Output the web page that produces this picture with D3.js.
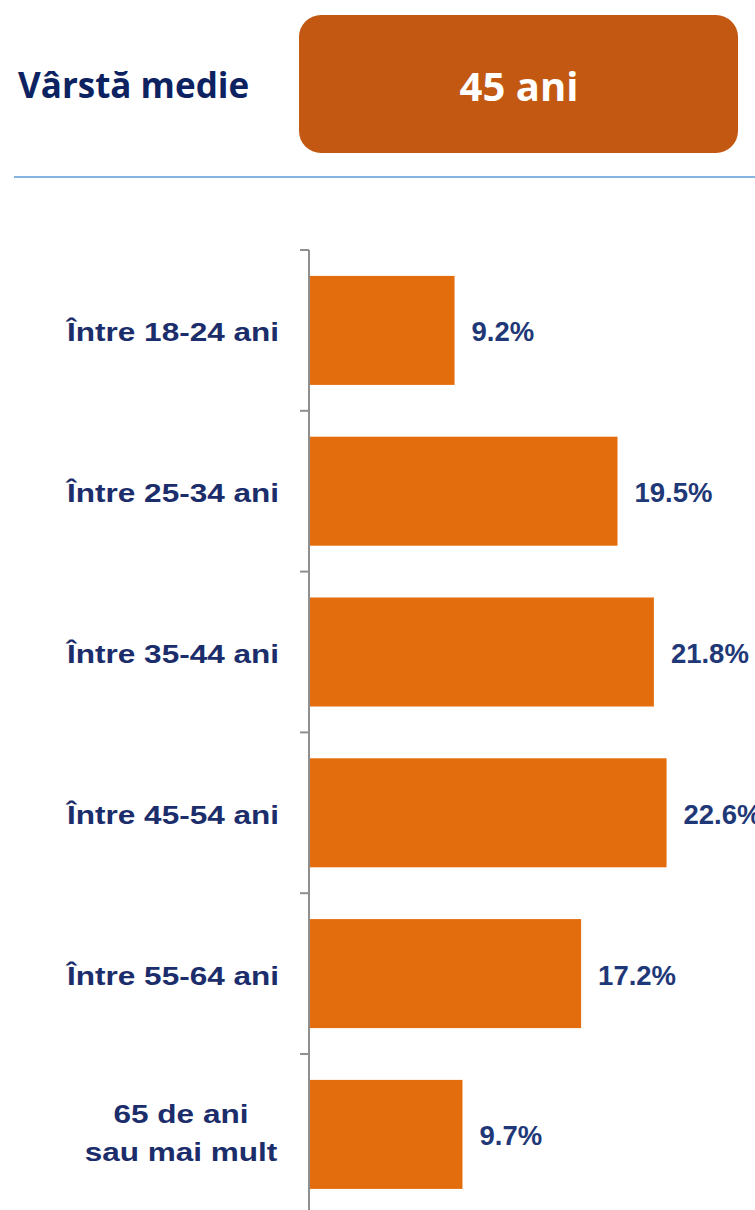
<!DOCTYPE html>
<html>
<head>
<meta charset="utf-8">
<script src="https://cdn.jsdelivr.net/npm/d3@7"></script>
<style>
  html, body { margin: 0; padding: 0; background: #ffffff; }
  svg { display: block; }
</style>
</head>
<body>
<svg id="chart" width="755" height="1210"></svg>
<script>
// ---- data ----
const headerLabel = "Vârstă medie";
const headerValue = "45 ani";
const categories = [
  ["Între 18-24 ani"],
  ["Între 25-34 ani"],
  ["Între 35-44 ani"],
  ["Între 45-54 ani"],
  ["Între 55-64 ani"],
  ["65 de ani", "sau mai mult"]
];
const values = [9.2, 19.5, 21.8, 22.6, 17.2, 9.7];

// ---- drawing ----
const svg = d3.select("#chart");
const W = 755, H = 1210;

// header
svg.append("text")
  .attr("x", 18).attr("y", 98)
  .attr("font-family", "'Open Sans', sans-serif")
  .attr("font-weight", 700)
  .attr("font-size", 35)
  .attr("fill", "#0d2260")
  .text(headerLabel);

svg.append("rect")
  .attr("x", 299).attr("y", 15)
  .attr("width", 439).attr("height", 138)
  .attr("rx", 22).attr("ry", 22)
  .attr("fill", "#c25811");

svg.append("text")
  .attr("x", 519).attr("y", 101)
  .attr("text-anchor", "middle")
  .attr("font-family", "'Open Sans', sans-serif")
  .attr("font-weight", 700)
  .attr("font-size", 40)
  .attr("fill", "#ffffff")
  .text(headerValue);

svg.append("line")
  .attr("x1", 14).attr("x2", W)
  .attr("y1", 177).attr("y2", 177)
  .attr("stroke", "#5b9bd5")
  .attr("stroke-width", 1.5);

// chart
const x0 = 309;
const x = d3.scaleLinear().domain([0, 28]).range([x0, x0 + 28 * 15.82]);
const y = d3.scaleBand()
  .domain(d3.range(values.length))
  .range([250, 250 + 6 * 160.8])
  .paddingInner(0.322)
  .paddingOuter(0.161);

const g = svg.append("g");

g.selectAll("rect.bar")
  .data(values)
  .enter().append("rect")
  .attr("class", "bar")
  .attr("x", x(0))
  .attr("y", (d, i) => y(i))
  .attr("width", d => x(d) - x(0))
  .attr("height", y.bandwidth())
  .attr("fill", "#e36c0c");

// axis line + ticks
const step = y.step();
g.append("line")
  .attr("x1", x0).attr("x2", x0)
  .attr("y1", 250).attr("y2", H)
  .attr("stroke", "#8f8f8f").attr("stroke-width", 2);

g.selectAll("line.tick")
  .data(d3.range(values.length))
  .enter().append("line")
  .attr("class", "tick")
  .attr("x1", x0 - 9).attr("x2", x0)
  .attr("y1", (d, i) => y(i) - y.paddingOuter() * step)
  .attr("y2", (d, i) => y(i) - y.paddingOuter() * step)
  .attr("stroke", "#8f8f8f").attr("stroke-width", 2);

// value labels
g.selectAll("text.val")
  .data(values)
  .enter().append("text")
  .attr("class", "val")
  .attr("x", d => x(d) + 17)
  .attr("y", (d, i) => y(i) + y.bandwidth() / 2 + 11)
  .attr("font-family", "'Liberation Sans', Arial, sans-serif")
  .attr("font-weight", 700)
  .attr("font-size", 27.5)
  .attr("fill", "#1f3877")
  .text(d => d.toFixed(1) + "%");

// category labels
const sx = 1.19;
categories.forEach((lines, i) => {
  const cy = y(i) + y.bandwidth() / 2;
  if (lines.length === 1) {
    g.append("text")
      .attr("transform", `translate(279,${cy + 11}) scale(${sx},1)`)
      .attr("text-anchor", "end")
      .attr("font-family", "'Liberation Sans', Arial, sans-serif")
      .attr("font-weight", 700)
      .attr("font-size", 26.5)
      .attr("fill", "#1b2d6a")
      .text(lines[0]);
  } else {
    lines.forEach((ln, j) => {
      g.append("text")
        .attr("transform", `translate(181,${cy - 11 + j * 38}) scale(${sx},1)`)
        .attr("text-anchor", "middle")
        .attr("font-family", "'Liberation Sans', Arial, sans-serif")
        .attr("font-weight", 700)
        .attr("font-size", 26.5)
        .attr("fill", "#1b2d6a")
        .text(ln);
    });
  }
});
</script>
</body>
</html>
